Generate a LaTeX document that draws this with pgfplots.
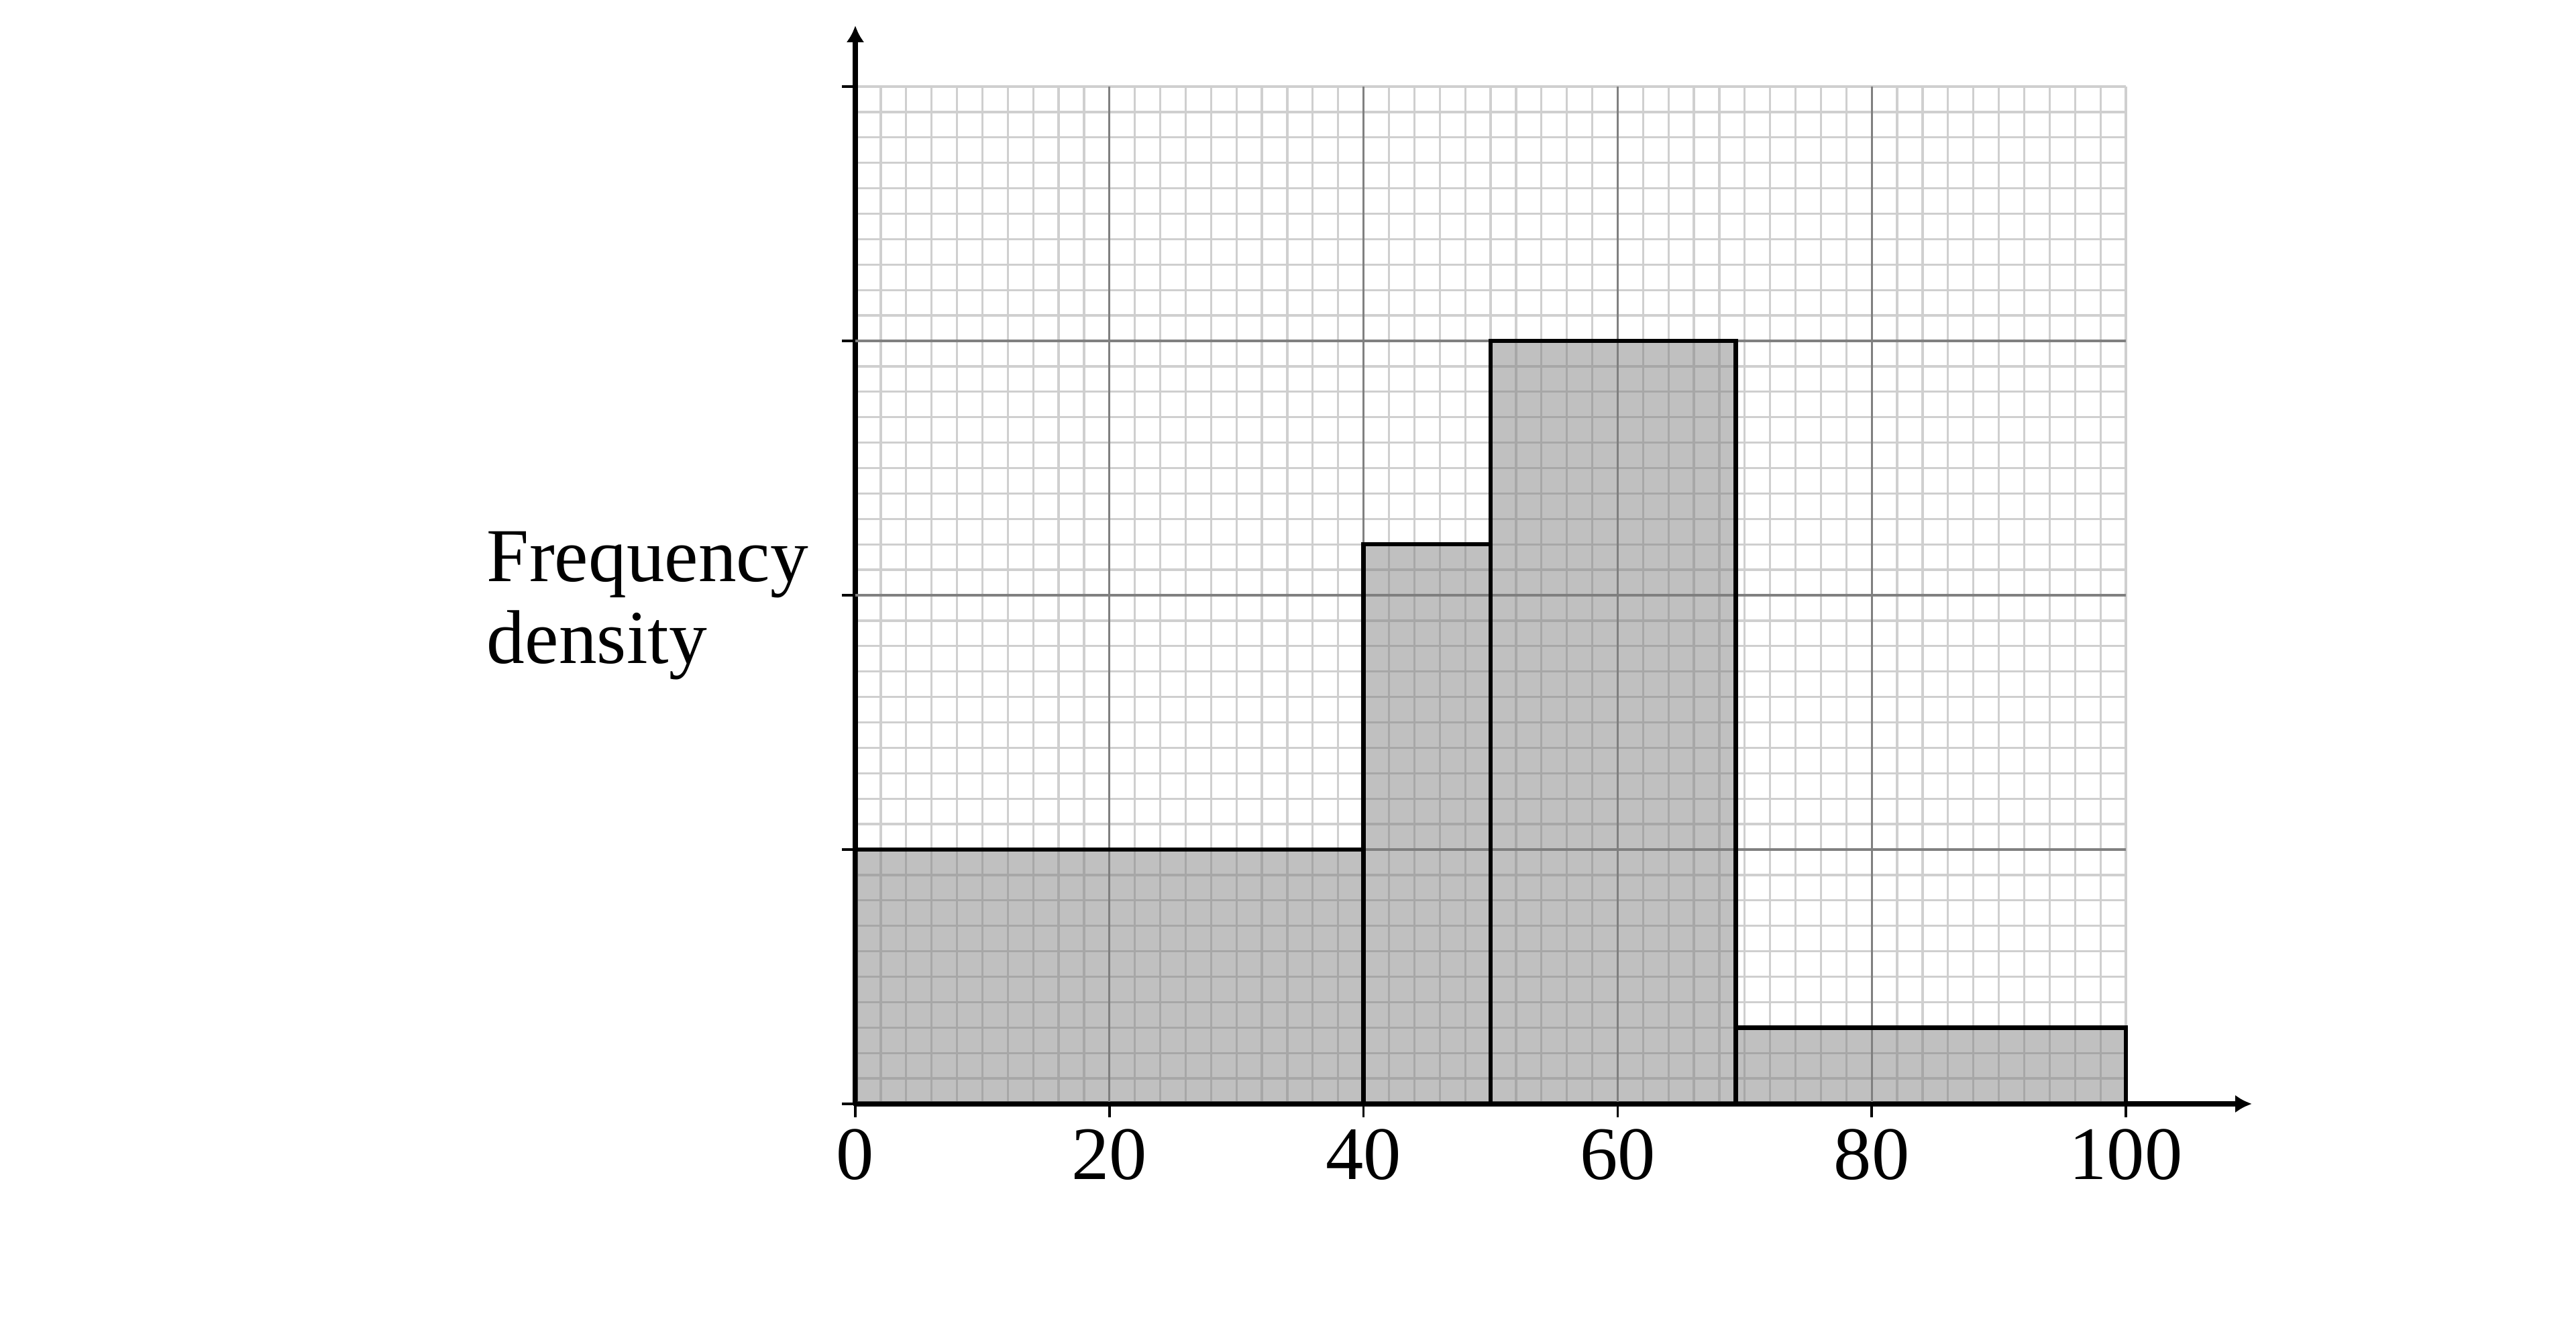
\documentclass[border=0pt]{standalone}
\usepackage{fontspec}
\setmainfont{Liberation Serif}
\usepackage{pgfplots}
\pgfplotsset{compat=1.18}
\usetikzlibrary{arrows.meta}
\definecolor{minorgrid}{HTML}{CFCFCF}
\definecolor{majorgrid}{HTML}{808080}
\definecolor{barfill}{HTML}{7E7E7E}

\begin{document}
\begin{tikzpicture}
\path[use as bounding box] (-255pt,-66.8pt) rectangle (513pt,329pt);
\begin{axis}[
  at={(0,0)}, anchor=origin,
  scale only axis, width=378.8pt, height=303.2pt,
  xmin=0, xmax=100, ymin=0, ymax=4,
  axis lines=left,
  axis line style={line width=1.5pt},
  x axis line style={-{Latex[length=5pt,width=5.4pt]}, shorten >=-37.6pt},
  y axis line style={-{Latex[length=5pt,width=5.4pt]}, shorten >=-18.2pt},
  xtick={0,20,...,100}, ytick={0,1,...,4}, yticklabels={},
  minor xtick={0,2,...,100}, minor ytick={0,0.1,...,4},
  minor tick length=0pt,
  tick align=outside, major tick length=4pt,
  tick style={black, line width=0.7pt},
  grid=minor,
  minor grid style={minorgrid, line width=0.65pt},
  major grid style={majorgrid, line width=0.65pt},
  extra x ticks={20,40,60,80}, extra x tick labels={},
  extra y ticks={1,2,3}, extra y tick labels={},
  extra tick style={grid=major},
  ticklabel style={font=\fontsize{22.5}{26}\selectfont},
  /pgf/number format/assume math mode=true,
  clip=false,
]
\addplot[ybar interval, draw=black, line width=1.3pt, fill=barfill, fill opacity=0.49]
  coordinates {(0,1) (40,2.2) (50,3) (69.3,0.3) (100,0.3)};
\end{axis}
\node[anchor=base west, inner sep=0pt, font=\fontsize{22.7}{27}\selectfont] at (-110pt,155.6pt) {Frequency};
\node[anchor=base west, inner sep=0pt, font=\fontsize{22.7}{27}\selectfont] at (-110pt,131.2pt) {density};
\end{tikzpicture}
\end{document}
